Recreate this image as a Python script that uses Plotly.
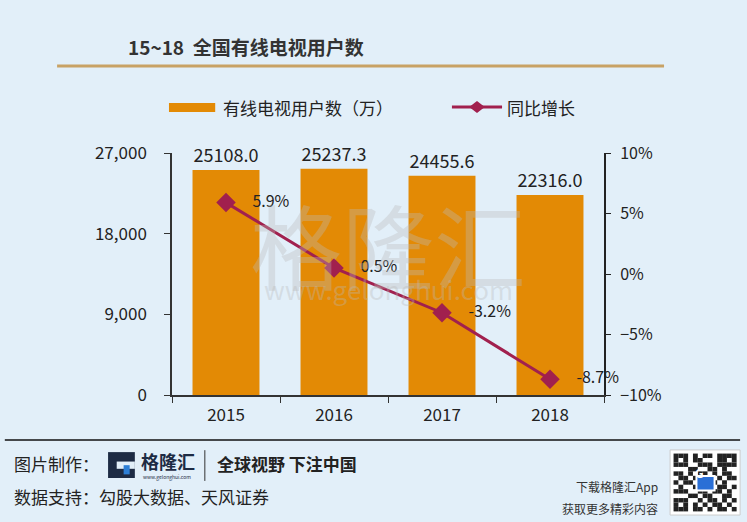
import plotly.graph_objects as go

years = ["2015", "2016", "2017", "2018"]
users = [25108.0, 25237.3, 24455.6, 22316.0]
growth = [0.059, 0.005, -0.032, -0.087]
growth_labels = ["5.9%", "0.5%", "-3.2%", "-8.7%"]
left_ticks = [0, 9000, 18000, 27000]
right_ticks = [-0.10, -0.05, 0, 0.05, 0.10]

FONT = "Noto Sans CJK SC"
BAR = "#E38A05"
LINE = "#A1204E"

fig = go.Figure()
fig.add_trace(go.Bar(
    x=years, y=users, name="有线电视用户数（万）",
    marker=dict(color=BAR, line=dict(width=0)),
    text=[f"{v:.1f}" for v in users], textposition="outside",
    textfont=dict(size=18, color="#222", family=FONT),
    cliponaxis=False, yaxis="y",
))
fig.add_trace(go.Scatter(
    x=years, y=growth, name="同比增长", yaxis="y2",
    mode="lines+markers+text",
    line=dict(color=LINE, width=3),
    marker=dict(symbol="diamond", size=15, color=LINE),
    text=["\u2002\u2002" + t for t in growth_labels], textposition="middle right",
    textfont=dict(size=16, color="#222", family=FONT),
    cliponaxis=False,
))

fig.update_layout(
    width=747, height=522,
    margin=dict(l=172, r=143, t=153, b=127),
    paper_bgcolor="#e2eff9", plot_bgcolor="rgba(0,0,0,0)",
    font=dict(family=FONT, color="#222"),
    bargap=0.38,
    showlegend=False,
    xaxis=dict(showline=True, linecolor="#333", linewidth=1.5, ticks="outside",
               tickson="boundaries", ticklen=6, tickcolor="#333",
               tickfont=dict(size=17, color="#222"), showgrid=False,
               ticklabelstandoff=4),
    yaxis=dict(range=[0, 27000], tickvals=left_ticks, tickformat=",d",
               showline=True, linecolor="#333", linewidth=1.5, ticks="outside",
               ticklen=6, tickcolor="#333", showgrid=False, zeroline=False,
               tickfont=dict(size=17, color="#222"), ticklabelstandoff=14),
    yaxis2=dict(range=[-0.10, 0.10], tickvals=right_ticks, tickformat=".0%",
                overlaying="y", side="right", showline=True, linecolor="#222",
                linewidth=2, ticks="outside", ticklen=5, tickcolor="#222",
                showgrid=False, zeroline=False,
                tickfont=dict(size=16, color="#222"), ticklabelstandoff=6),
)

P = dict(xref="paper", yref="paper")

# title and separator
fig.add_annotation(**P, x=-0.106, y=1.442, xanchor="left", yanchor="middle",
                   text="<b>15~18  全国有线电视用户数</b>", showarrow=False,
                   font=dict(size=19, color="#333"))
fig.add_shape(type="line", **P, x0=-0.266, x1=1.139, y0=1.36, y1=1.36,
              line=dict(color="#C8A265", width=3), layer="below")

# custom legend
fig.add_shape(type="rect", **P, x0=-0.007, x1=0.1, y0=1.169, y1=1.207,
              fillcolor=BAR, line=dict(width=0))
fig.add_annotation(**P, x=0.113, y=1.19, xanchor="left", yanchor="middle",
                   text="有线电视用户数（万）", showarrow=False, font=dict(size=17, color="#222"))
fig.add_shape(type="line", **P, x0=0.648, x1=0.764, y0=1.19, y1=1.19,
              line=dict(color=LINE, width=3))
fig.add_shape(type="path", **P,
              path="M 0.706 1.215 L 0.724 1.19 L 0.706 1.165 L 0.688 1.19 Z",
              fillcolor=LINE, line=dict(width=0))
fig.add_annotation(**P, x=0.77, y=1.19, xanchor="left", yanchor="middle",
                   text="同比增长", showarrow=False, font=dict(size=17, color="#222"))

# watermark
fig.add_annotation(**P, x=0.5, y=0.63, text="格隆汇", showarrow=False,
                   font=dict(size=92, color="rgba(185,185,185,0.35)"))
fig.add_annotation(**P, x=0.5, y=0.44, text="www.gelonghui.com", showarrow=False,
                   font=dict(size=26, color="rgba(185,185,185,0.35)"))

# footer
fig.add_shape(type="line", **P, x0=-0.387, x1=1.315, y0=-0.186, y1=-0.186,
              line=dict(color="#111", width=1.5))
fig.add_annotation(**P, x=-0.37, y=-0.285, xanchor="left", yanchor="middle",
                   text="图片制作：", showarrow=False, font=dict(size=17, color="#222"))
fig.add_annotation(**P, x=-0.37, y=-0.421, xanchor="left", yanchor="middle",
                   text="数据支持：勾股大数据、天风证券", showarrow=False, font=dict(size=17, color="#222"))
# logo
fig.add_shape(type="rect", **P, x0=-0.148, x1=-0.086, y0=-0.236, y1=-0.343,
              fillcolor="#1d2b44", line=dict(width=0))
fig.add_shape(type="rect", **P, x0=-0.128, x1=-0.086, y0=-0.275, y1=-0.305,
              fillcolor="#e2eff9", line=dict(width=0))
fig.add_shape(type="rect", **P, x0=-0.112, x1=-0.098, y0=-0.29, y1=-0.328,
              fillcolor="#2d7fd6", line=dict(width=0))
fig.add_annotation(**P, x=-0.076, y=-0.272, xanchor="left", yanchor="middle",
                   text="<b>格隆汇</b>", showarrow=False, font=dict(size=18, color="#1d2b44"))
fig.add_annotation(**P, x=-0.072, y=-0.34, xanchor="left", yanchor="middle",
                   text="www.gelonghui.com", showarrow=False, font=dict(size=5, color="#1d2b44"))
fig.add_shape(type="line", **P, x0=0.076, x1=0.076, y0=-0.228, y1=-0.355,
              line=dict(color="#333", width=1))
fig.add_annotation(**P, x=0.1, y=-0.285, xanchor="left", yanchor="middle",
                   text="<b>全球视野 下注中国</b>", showarrow=False, font=dict(size=17, color="#222"))
fig.add_annotation(**P, x=1.13, y=-0.38, xanchor="right", yanchor="middle",
                   text="下载格隆汇App", showarrow=False, font=dict(size=12, color="#333"))
fig.add_annotation(**P, x=1.13, y=-0.467, xanchor="right", yanchor="middle",
                   text="获取更多精彩内容", showarrow=False, font=dict(size=12, color="#333"))

# QR placeholder
qx0, qx1, qy0, qy1 = 1.153, 1.315, -0.227, -0.496
fig.add_shape(type="rect", **P, x0=qx0, x1=qx1, y0=qy0, y1=qy1,
              fillcolor="white", line=dict(color="#ccc", width=1))
qr_rows = [
    "1110101101111",
    "1010110001101",
    "1110011101111",
    "0001100110100",
    "1101011010110",
    "0110100101011",
    "1011001110100",
    "0100110101101",
    "1110011011010",
    "0001101100110",
    "1110010110101",
    "1010101011010",
    "1110110101101",
]
n = len(qr_rows)
cw = (qx1 - qx0 - 0.016) / n
ch = (qy0 - qy1 - 0.03) / n
for r, row in enumerate(qr_rows):
    for c, bit in enumerate(row):
        if bit == "1":
            x0 = qx0 + 0.008 + c * cw
            y0 = qy0 - 0.015 - r * ch
            fig.add_shape(type="rect", **P, x0=x0, x1=x0 + cw, y0=y0, y1=y0 - ch,
                          fillcolor="#222", line=dict(width=0))
fig.add_shape(type="rect", **P, x0=1.214, x1=1.256, y0=-0.335, y1=-0.395,
              fillcolor="#2a6fd6", line=dict(color="white", width=2))
fig.add_annotation(**P, x=1.235, y=-0.365, text="<b>G</b>", showarrow=False,
                   font=dict(size=12, color="white"))

fig.write_html("out.html", config={"displayModeBar": False},
               post_script="document.body.style.margin='0';")
